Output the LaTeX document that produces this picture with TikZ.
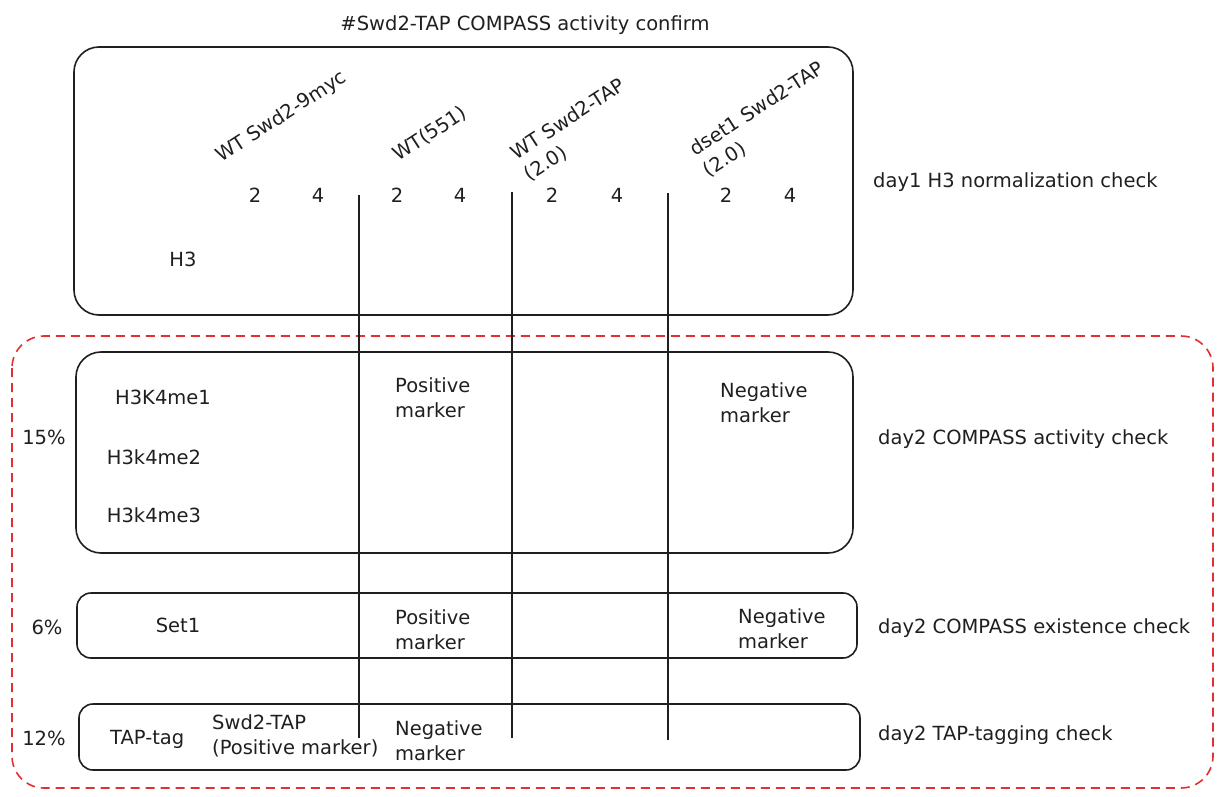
\documentclass[tikz,border=0pt]{standalone}
\usepackage{fontspec}
\setmainfont{DejaVu Sans}
\begin{document}
\begin{tikzpicture}[x=1pt,y=-1pt,
  ink/.style={draw=black!88, line width=1.6pt},
  panel/.style={ink, rounded corners=25pt},
  slim/.style={ink, rounded corners=14pt},
  group/.style={draw={rgb,255:red,224;green,49;blue,49}, line width=1.6pt, dash pattern=on 9pt off 6pt, rounded corners=32pt},
  txt/.style={font=\fontsize{19.5}{25}\selectfont, inner sep=0pt, text=black!88},
  lbl/.style={txt, anchor=base west},
  two/.style={txt, anchor=west, align=left},
  rot/.style={txt, rotate=33, align=left}
]
\useasboundingbox (0,0) rectangle (1224,797);

% title
\node[txt, anchor=base] (title) at (525,31) {\#Swd2-TAP COMPASS activity confirm};

% boxes
\draw[panel] (74,47) rectangle (853,315);
\draw[group] (12,336) rectangle (1213,788);
\draw[panel] (76,352) rectangle (853,553);
\draw[slim] (77,593) rectangle (857,658);
\draw[slim] (79,704) rectangle (860,770);

% rotated strain labels
\node[lbl, rotate=33] (s1) at (221,163) {WT Swd2-9myc};
\node[lbl, rotate=33] (s2) at (398,162) {WT(551)};
\node[rot, anchor=north west] (s3) at (508,148) {WT Swd2-TAP\\(2.0)};
\node[rot, anchor=north west] (s4) at (687,144) {dset1 Swd2-TAP\\(2.0)};

% lane numbers
\foreach \x/\t [count=\i] in {255/2,318/4,397/2,460/4,552/2,617/4,726/2,790/4}
  \node[txt] (n\i) at (\x,195) {\t};

\node[txt] (h3) at (183,259) {H3};

% right labels
\node[lbl] (r1) at (873,188) {day1 H3 normalization check};
\node[lbl] (r2) at (878,444) {day2 COMPASS activity check};
\node[lbl] (r3) at (878,633) {day2 COMPASS existence check};
\node[lbl] (r4) at (878,740) {day2 TAP-tagging check};

% percentages
\node[txt] (p1) at (44,437) {15\%};
\node[txt] (p2) at (47,627) {6\%};
\node[txt] (p3) at (44,738) {12\%};

% row labels
\node[txt] (m1) at (163,397) {H3K4me1};
\node[txt] (m2) at (154,457) {H3k4me2};
\node[txt] (m3) at (154,515) {H3k4me3};
\node[txt] (set1) at (178,625) {Set1};
\node[lbl] (tap) at (110,744) {TAP-tag};
\node[two] (swd) at (212,736) {Swd2-TAP\\(Positive marker)};

\node[two] (pm1) at (395,398) {Positive\\marker};
\node[two] (nm1) at (720,403) {Negative\\marker};
\node[two] (pm2) at (395,630) {Positive\\marker};
\node[two] (nm2) at (738,629) {Negative\\marker};
\node[two] (nm3) at (395,741) {Negative\\marker};

% lane dividers
\coordinate (a1) at (359,195); \coordinate (a2) at (359,738);
\coordinate (b1) at (512,192); \coordinate (b2) at (512,738);
\coordinate (c1) at (668,193); \coordinate (c2) at (668,740);
\draw[ink] (a1) -- (a2);
\draw[ink] (b1) -- (b2);
\draw[ink] (c1) -- (c2);
\end{tikzpicture}
\end{document}
